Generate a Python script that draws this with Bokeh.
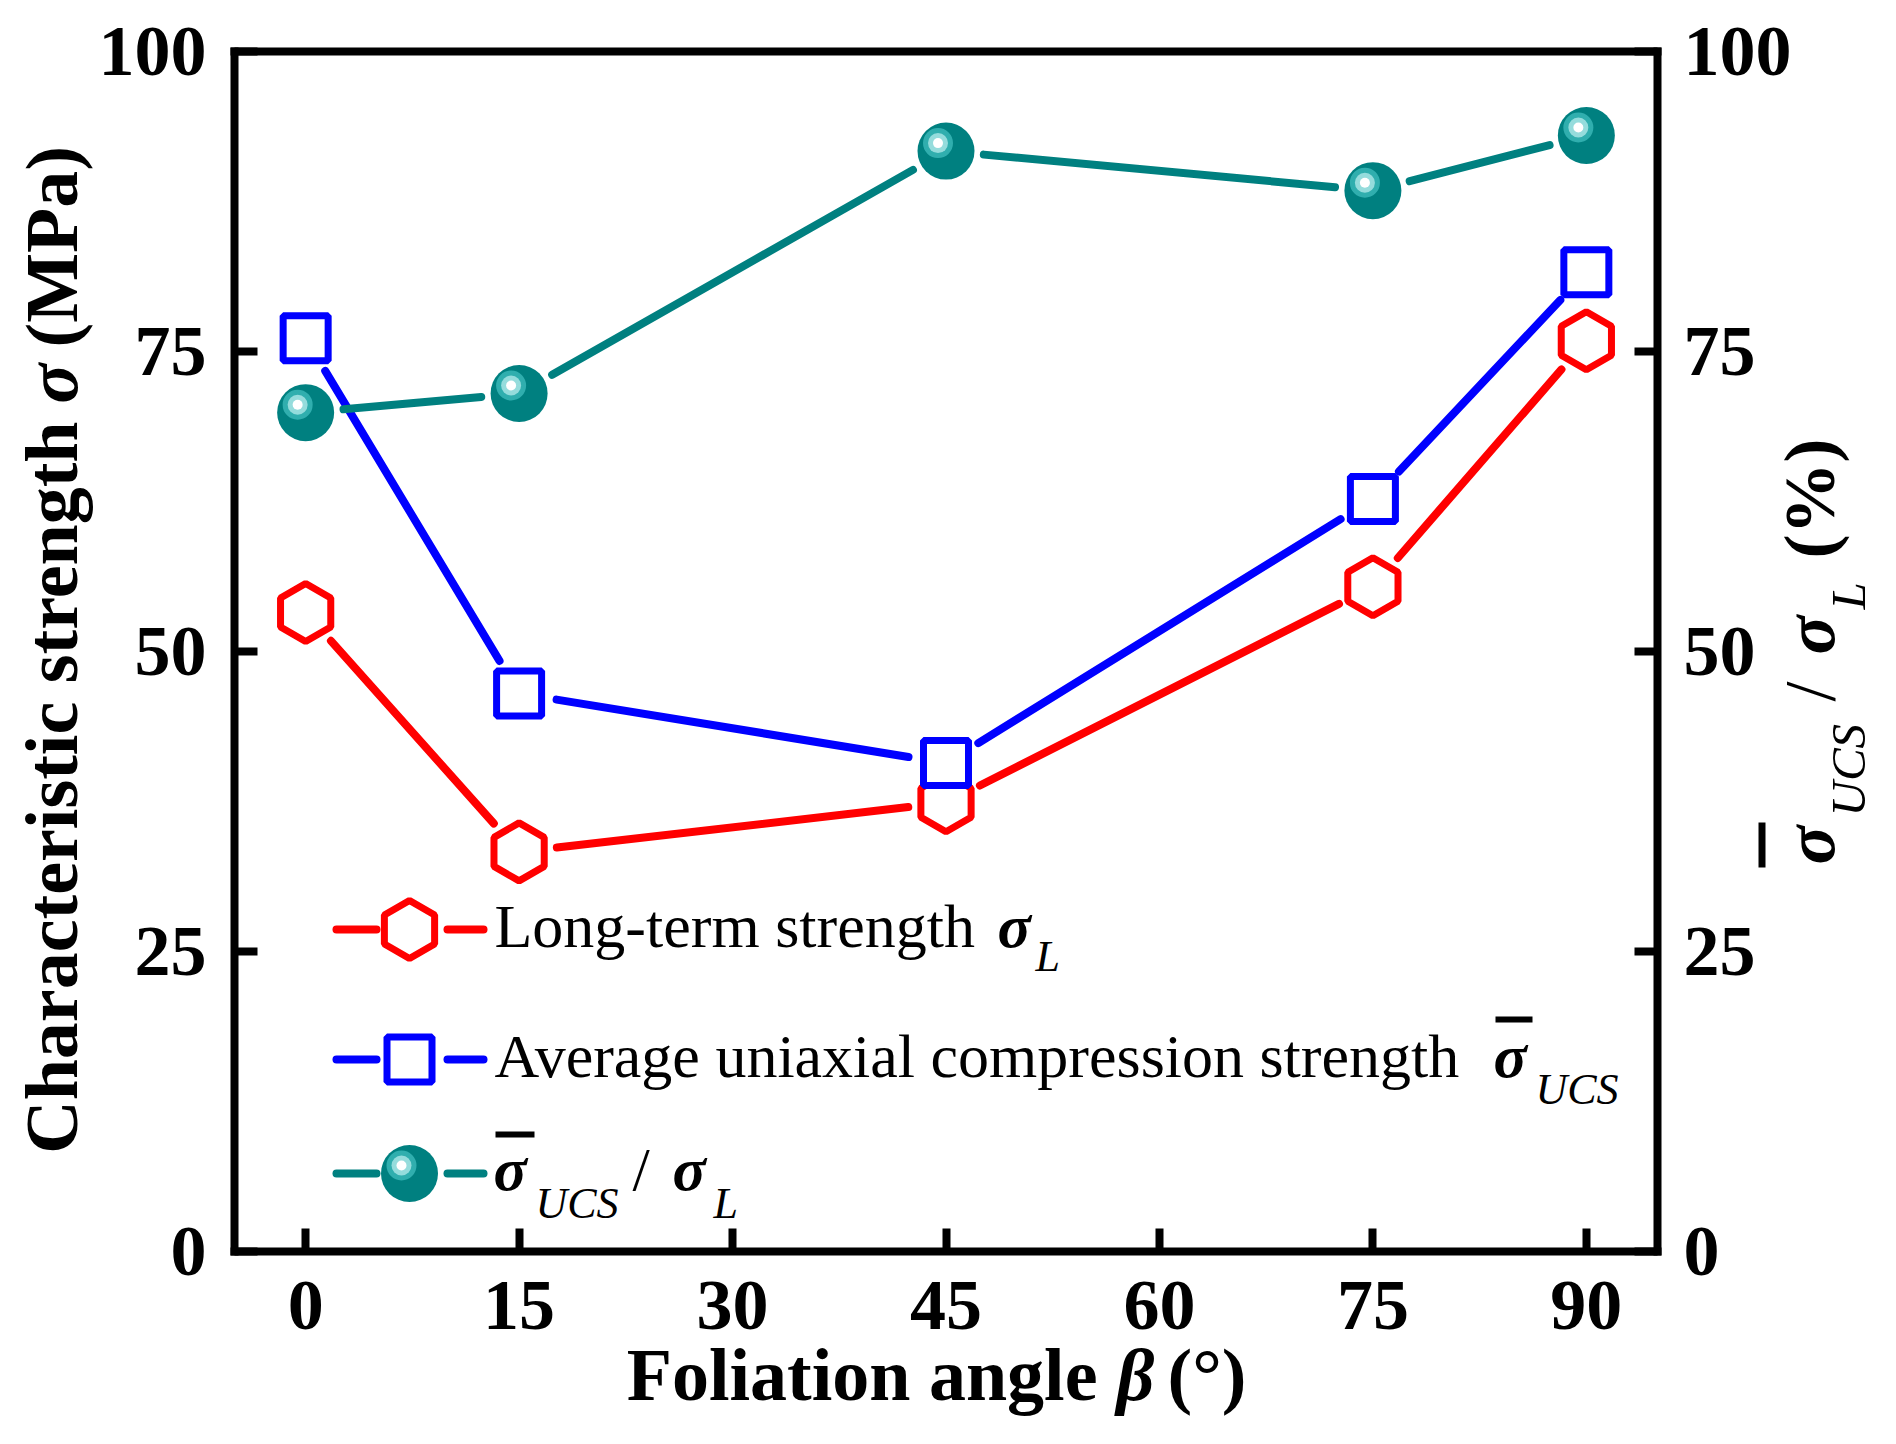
import math
from bokeh.plotting import figure
from bokeh.models import Range1d, LinearAxis, FixedTicker, Label, BoxAnnotation
from bokeh.embed import file_html
from bokeh.resources import INLINE

# ---------------- data ----------------
angles = [0, 15, 45, 75, 90]                 # foliation angle beta (deg)
long_term = [53.25, 33.3, 37.4, 55.4, 75.9]  # sigma_L (MPa)
ucs_avg = [76.1, 46.5, 40.7, 62.7, 81.6]     # average UCS (MPa)
ratio_pct = [69.9, 71.5, 91.7, 88.4, 93.0]   # sigma_UCS / sigma_L (%)
x_ticks = [0, 15, 30, 45, 60, 75, 90]
y_ticks = [0, 25, 50, 75, 100]

# ---------------- layout constants (page pixels) ----------------
FIG_W, FIG_H = 1896, 1444
BOX_L, BOX_R, BOX_T, BOX_B = 234, 1657, 51, 1251   # the drawn plot box
XR = (-5, 95)
YR = (0, 100)
PXX = (BOX_R - BOX_L) / (XR[1] - XR[0])
PXY = (BOX_B - BOX_T) / (YR[1] - YR[0])
LW_AX = 8
LW = 8
BASE_FIX = 0.39   # em offset between Bokeh's label anchor and the glyph baseline

RED = "#FF0000"
BLUE = "#0000FF"
TEAL = "#008080"
FONT = "Liberation Serif"


def X(px):
    return XR[0] + (px - BOX_L) / PXX


def Y(py):
    return YR[0] + (BOX_B - py) / PXY


def gapped(xs, ys, gap=38):
    x0, y0, x1, y1 = [], [], [], []
    for i in range(len(xs) - 1):
        ax, ay = xs[i] * PXX, ys[i] * PXY
        bx, by = xs[i + 1] * PXX, ys[i + 1] * PXY
        L = math.hypot(bx - ax, by - ay)
        ux, uy = (bx - ax) / L, (by - ay) / L
        x0.append((ax + ux * gap) / PXX)
        y0.append((ay + uy * gap) / PXY)
        x1.append((bx - ux * gap) / PXX)
        y1.append((by - uy * gap) / PXY)
    return x0, y0, x1, y1


# the frame covers the whole canvas; the axes are placed at fixed data locations
p = figure(
    x_range=Range1d(X(0), X(FIG_W)), y_range=Range1d(Y(FIG_H), Y(0)),
    frame_width=FIG_W, frame_height=FIG_H, min_border=0,
    x_axis_location=None, y_axis_location=None,
    output_backend="svg", toolbar_location=None,
    background_fill_color="white", border_fill_color="white",
)
p.extra_y_ranges = {"pct": Range1d(Y(FIG_H), Y(0))}
p.xgrid.visible = False
p.ygrid.visible = False
p.outline_line_color = None

xb = (X(BOX_L - LW_AX / 2), X(BOX_R + LW_AX / 2))
yb = (Y(BOX_B + LW_AX / 2), Y(BOX_T - LW_AX / 2))

bottom_axis = LinearAxis(fixed_location=YR[0], bounds=xb,
                         ticker=FixedTicker(ticks=x_ticks, minor_ticks=[]))
left_axis = LinearAxis(fixed_location=XR[0], bounds=yb,
                       ticker=FixedTicker(ticks=y_ticks, minor_ticks=[]))
right_axis = LinearAxis(fixed_location=XR[1], bounds=yb, y_range_name="pct",
                        ticker=FixedTicker(ticks=y_ticks, minor_ticks=[]))
top_axis = LinearAxis(fixed_location=YR[1], bounds=xb,
                      ticker=FixedTicker(ticks=[], minor_ticks=[]))
p.add_layout(bottom_axis, "below")
p.add_layout(left_axis, "left")
p.add_layout(right_axis, "right")
p.add_layout(top_axis, "above")

for ax in [bottom_axis, left_axis, right_axis, top_axis]:
    ax.axis_line_width = LW_AX
    ax.axis_line_color = "black"
    ax.major_tick_in = 23
    ax.major_tick_out = 0
    ax.major_tick_line_width = LW_AX
    ax.major_tick_line_color = "black"
    ax.minor_tick_line_color = None
    ax.major_label_text_font = FONT
    ax.major_label_text_font_style = "bold"
    ax.major_label_text_font_size = "72px"
    ax.major_label_text_color = "black"
    ax.axis_label = None
top_axis.major_label_text_color = None
top_axis.major_tick_line_color = None

bottom_axis.major_label_standoff = 30
left_axis.major_label_standoff = 28
right_axis.major_label_standoff = 26

# ---------------- series ----------------
x0, y0, x1, y1 = gapped(angles, long_term)
p.segment(x0, y0, x1, y1, line_color=RED, line_width=LW, line_cap="round")
p.scatter(angles, long_term, marker="hex", size=58, angle=math.pi / 2,
          line_color=RED, line_width=7, fill_color="white")

x0, y0, x1, y1 = gapped(angles, ucs_avg)
p.segment(x0, y0, x1, y1, line_color=BLUE, line_width=LW, line_cap="round")
p.scatter(angles, ucs_avg, marker="square", size=45,
          line_color=BLUE, line_width=7, fill_color="white")


def sphere(xs, ys, range_name=None):
    kw = {} if range_name is None else {"y_range_name": range_name}
    hx = [v - 8 / PXX for v in xs]
    hy = [v + 8 / PXY for v in ys]
    p.scatter(xs, ys, marker="circle", size=57, fill_color=TEAL, line_color=None, **kw)
    p.scatter(hx, hy, marker="circle", size=30, fill_color="#30AEAE", line_color=None, **kw)
    p.scatter(hx, hy, marker="circle", size=20, fill_color="#95DCDC", line_color=None, **kw)
    p.scatter(hx, hy, marker="circle", size=10, fill_color="#FFFFFF", line_color=None, **kw)


x0, y0, x1, y1 = gapped(angles, ratio_pct)
p.segment(x0, y0, x1, y1, line_color=TEAL, line_width=LW, line_cap="round", y_range_name="pct")
sphere(angles, ratio_pct, "pct")

# ---------------- legend (drawn by hand) ----------------
LEG_MX = 409
LEG_ROWS = [929, 1059, 1173]
DASHES = [(336, 376), (447, 483)]
leg_colors = [RED, BLUE, TEAL]
for row, col in zip(LEG_ROWS, leg_colors):
    p.segment([X(a) for a, b in DASHES], [Y(row)] * 2, [X(b) for a, b in DASHES], [Y(row)] * 2,
              line_color=col, line_width=LW, line_cap="round")
p.scatter([X(LEG_MX)], [Y(LEG_ROWS[0])], marker="hex", size=58, angle=math.pi / 2,
          line_color=RED, line_width=7, fill_color="white")
p.scatter([X(LEG_MX)], [Y(LEG_ROWS[1])], marker="square", size=45,
          line_color=BLUE, line_width=7, fill_color="white")
sphere([X(LEG_MX)], [Y(LEG_ROWS[2])])


def lab(text, px, py, size, style="normal", align="left", angle=0.0):
    if angle == 0.0:
        py = py - BASE_FIX * size
    else:
        px = px - BASE_FIX * size
    p.add_layout(Label(x=X(px), y=Y(py), text=text, text_font=FONT,
                       text_font_size=f"{size}px", text_font_style=style,
                       text_align=align, text_baseline="alphabetic",
                       text_color="black", angle=angle, angle_units="rad"))


def bar(l, r, t, b):
    p.add_layout(BoxAnnotation(left=X(l), right=X(r), top=Y(t), bottom=Y(b),
                               fill_color="black", fill_alpha=1.0,
                               line_color=None, level="overlay"))


# legend row 1
lab("Long-term strength", 494, 950, 62)
lab("σ", 997, 950, 62, "bold italic")
lab("L", 1035, 973, 44, "italic")
# legend row 2
lab("Average uniaxial compression strength", 494, 1080, 62)
bar(1495, 1532, 1016, 1022)
lab("σ", 1493, 1080, 62, "bold italic")
lab("UCS", 1535, 1106, 44, "italic")
# legend row 3
bar(495, 534, 1131, 1137)
lab("σ", 493, 1193, 62, "bold italic")
lab("UCS", 535, 1220, 44, "italic")
lab("/", 632, 1193, 62)
lab("σ", 672, 1193, 62, "bold italic")
lab("L", 713, 1220, 44, "italic")

# ---------------- axis titles ----------------
lab("Foliation angle", 1097, 1403, 74, "bold", "right")
lab("β", 1116, 1403, 74, "bold italic")
lab("(°)", 1167, 1403, 74, "bold")

R = math.pi / 2
lab("Characteristic strength", 80, 421, 74, "bold", "right", R)
lab("σ", 80, 403, 74, "bold italic", "left", R)
lab("(MPa)", 80, 347, 74, "bold", "left", R)

bar(1758, 1765, 822, 867)
lab("σ", 1838, 864, 72, "bold italic", "left", R)
lab("UCS", 1867, 816, 49, "italic", "left", R)
lab("/", 1838, 701, 72, "normal", "left", R)
lab("σ", 1838, 654, 72, "bold italic", "left", R)
lab("L", 1867, 609, 49, "italic", "left", R)
lab("(%)", 1838, 558, 72, "bold", "left", R)

open("out.html", "w").write(file_html(p, INLINE))
